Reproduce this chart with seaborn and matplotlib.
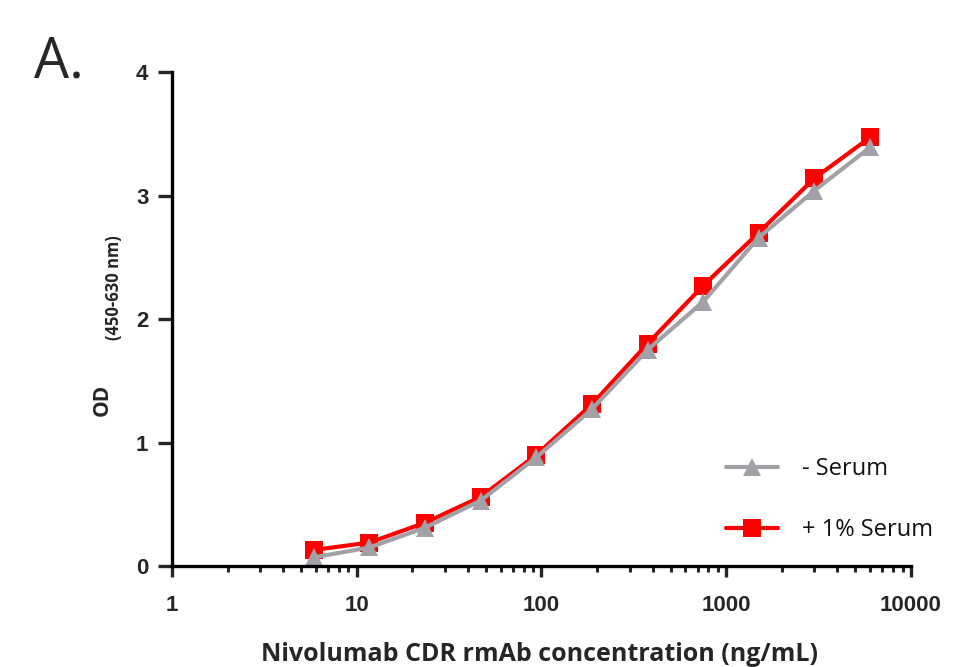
import numpy as np
import pandas as pd
import seaborn as sns
import matplotlib.pyplot as plt
from matplotlib.ticker import LogLocator, FixedLocator, NullFormatter

# concentrations (ng/mL), 2-fold serial dilution
conc = [5.86, 11.7, 23.4, 46.9, 93.75, 187.5, 375, 750, 1500, 3000, 6000]
no_serum = [0.07, 0.15, 0.31, 0.53, 0.88, 1.27, 1.75, 2.14, 2.66, 3.04, 3.39]
serum_1pct = [0.13, 0.19, 0.35, 0.56, 0.90, 1.31, 1.80, 2.27, 2.70, 3.14, 3.47]
series_names = ['- Serum', '+ 1% Serum']
xtick_vals = [1, 10, 100, 1000, 10000]
xtick_labels = ['1', '10', '100', '1000', '10000']

df = pd.DataFrame({
    'conc': conc * 2,
    'od': serum_1pct + no_serum,
    'group': [series_names[1]] * len(conc) + [series_names[0]] * len(conc),
})

sns.set_style('ticks')
plt.rcParams['font.family'] = ['Liberation Sans', 'DejaVu Sans']

fig = plt.figure(figsize=(9.74, 6.67), dpi=100)
ax = fig.add_axes([0.1766, 0.1514, 0.7587, 0.7406])

pal = {'- Serum': '#a2a1a7', '+ 1% Serum': '#ff0000'}
mk = {'- Serum': '^', '+ 1% Serum': 's'}
sns.lineplot(data=df, x='conc', y='od', hue='group', style='group',
             hue_order=['+ 1% Serum', '- Serum'], style_order=['+ 1% Serum', '- Serum'],
             palette=pal, markers=mk, dashes=False, linewidth=3,
             markersize=13, markeredgewidth=0, ax=ax, legend=True)

ax.set_xscale('log')
ax.set_xlim(1, 10000)
ax.set_ylim(0, 4)
ax.xaxis.set_major_locator(FixedLocator(xtick_vals))
ax.set_xticklabels(xtick_labels)
ax.xaxis.set_minor_locator(LogLocator(base=10, subs=np.arange(2, 10)))
ax.xaxis.set_minor_formatter(NullFormatter())
ax.set_yticks([0, 1, 2, 3, 4])
ax.set_yticklabels(['0', '1', '2', '3', '4'])

for s in ['top', 'right']:
    ax.spines[s].set_visible(False)
for s in ['left', 'bottom']:
    ax.spines[s].set_linewidth(2.4)
    ax.spines[s].set_color('black')

ax.tick_params(axis='x', which='major', length=8, width=2.4, pad=13, labelsize=16)
ax.tick_params(axis='x', which='minor', length=4.5, width=2.2)
ax.tick_params(axis='y', which='major', length=10, width=2.4, pad=7, labelsize=16)
for lab in ax.get_xticklabels() + ax.get_yticklabels():
    lab.set_fontweight('bold')

ax.set_xlabel('')
ax.set_ylabel('')

# legend: - Serum first
handles, labels = ax.get_legend_handles_labels()
order = [labels.index(n) for n in series_names]
leg = ax.legend([handles[i] for i in order], [labels[i] for i in order],
                loc='upper left', bbox_to_anchor=(705 / 974, 1 - 436 / 667),
                bbox_transform=fig.transFigure, frameon=False,
                handlelength=2.2, handletextpad=1.0, labelspacing=1.55,
                prop={'family': 'Open Sans', 'size': 17})
for t in leg.get_texts():
    t.set_color('#111111')

fig.text(0.554, 0.018, 'Nivolumab CDR rmAb concentration (ng/mL)',
         ha='center', va='center', fontsize=18, fontweight='bold',
         family='Open Sans')
fig.text(102 / 974, 1 - 400 / 667, 'OD', rotation=90, ha='center', va='center',
         fontsize=15, fontweight='bold', family='Open Sans')
fig.text(114 / 974, 1 - 288 / 667, '(450-630 nm)', rotation=90, ha='center',
         va='center', fontsize=12, fontweight='bold', family='Open Sans')
fig.text(34 / 974, 1 - 78 / 667, 'A.', ha='left', va='baseline', fontsize=40,
         family='Open Sans')

fig.savefig('out.png', dpi=100)
